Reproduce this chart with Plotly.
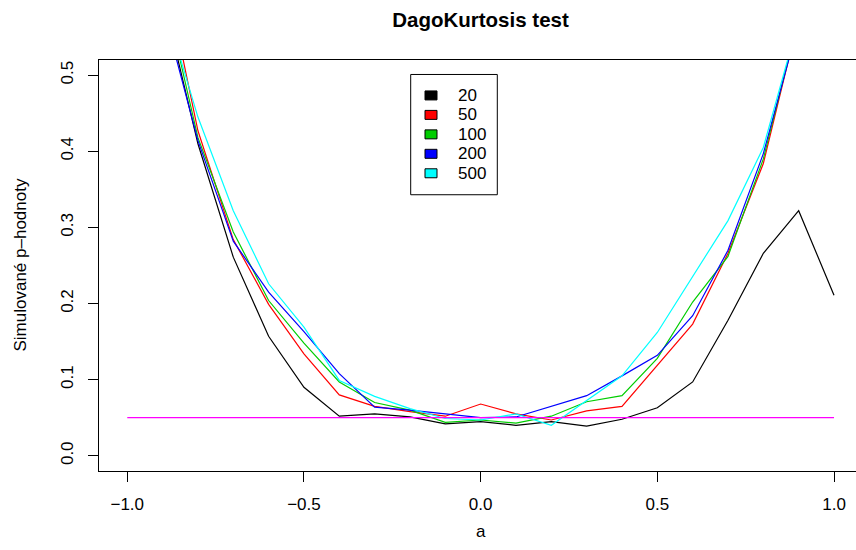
import plotly.graph_objects as go

# ---- data ----
a_values = [-1.0, -0.9, -0.8, -0.7, -0.6, -0.5, -0.4, -0.3, -0.2, -0.1, 0.0,
            0.1, 0.2, 0.3, 0.4, 0.5, 0.6, 0.7, 0.8, 0.9, 1.0]

p_n20 = [0.75, 0.605, 0.410, 0.261, 0.157, 0.090, 0.052, 0.055, 0.051, 0.042, 0.045,
         0.040, 0.045, 0.039, 0.048, 0.063, 0.097, 0.178, 0.266, 0.322, 0.211]
p_n50 = [0.80, 0.650, 0.427, 0.284, 0.199, 0.134, 0.080, 0.065, 0.058, 0.052, 0.068,
         0.055, 0.047, 0.059, 0.065, 0.119, 0.173, 0.266, 0.384, 0.575, 0.75]
p_n100 = [0.78, 0.620, 0.418, 0.294, 0.204, 0.148, 0.097, 0.070, 0.060, 0.044, 0.047,
          0.043, 0.052, 0.071, 0.079, 0.128, 0.202, 0.262, 0.390, 0.578, 0.76]
p_n200 = [0.76, 0.590, 0.414, 0.282, 0.215, 0.163, 0.108, 0.064, 0.060, 0.055, 0.050,
          0.051, 0.065, 0.079, 0.105, 0.132, 0.184, 0.270, 0.397, 0.560, 0.74]
p_n500 = [0.77, 0.600, 0.445, 0.322, 0.226, 0.169, 0.099, 0.078, 0.062, 0.049, 0.047,
          0.055, 0.040, 0.072, 0.105, 0.162, 0.236, 0.309, 0.405, 0.566, 0.74]

series_names = ["20", "50", "100", "200", "500"]
series_values = [p_n20, p_n50, p_n100, p_n200, p_n500]
series_colors = ["#000000", "#FF0000", "#00CD00", "#0000FF", "#00FFFF"]

alpha_x = [-1.0, 1.0]
alpha_y = [0.05, 0.05]

x_ticks = [-1.0, -0.5, 0.0, 0.5, 1.0]
x_ticktext = ["\u22121.0", "\u22120.5", "0.0", "0.5", "1.0"]
y_ticks = [0.0, 0.1, 0.2, 0.3, 0.4, 0.5]
y_ticktext = ["0.0", "0.1", "0.2", "0.3", "0.4", "0.5"]

# ---- layout geometry ----
W, H = 856, 550
L, R, T, B = 99, 0, 59.5, 78.7
PW = W - L - R
PH = H - T - B
FONT = "Liberation Sans, Arial, Helvetica, sans-serif"


def px(xp):
    return (xp - L) / PW


def py(yp):
    return (H - B - yp) / PH


fig = go.Figure()
for name, vals, col in zip(series_names, series_values, series_colors):
    fig.add_trace(go.Scatter(x=a_values, y=vals, mode="lines", name=name,
                             line=dict(color=col, width=1.2), showlegend=False))
fig.add_trace(go.Scatter(x=alpha_x, y=alpha_y, mode="lines", name="alpha",
                         line=dict(color="#FF00FF", width=1.2), showlegend=False))

# legend drawn like R's legend(fill=...)
shapes = [dict(type="rect", xref="paper", yref="paper",
               x0=px(410.7), x1=px(497.3), y0=py(194.5), y1=py(74),
               line=dict(color="black", width=1), fillcolor="white", layer="above")]
annotations = []
for i, (name, col) in enumerate(zip(series_names, series_colors)):
    yc = 95 + 19.5 * i
    shapes.append(dict(type="rect", xref="paper", yref="paper",
                       x0=px(425), x1=px(437), y0=py(yc + 4.5), y1=py(yc - 4.5),
                       line=dict(color="black", width=1), fillcolor=col, layer="above"))
    annotations.append(dict(text=name, xref="paper", yref="paper",
                            x=px(456), y=py(yc), xanchor="left", yanchor="middle",
                            showarrow=False, font=dict(family=FONT, size=17, color="black")))

annotations.append(dict(text="a", xref="x", yref="paper", x=0.0, y=py(532),
                        xanchor="center", yanchor="middle", showarrow=False,
                        font=dict(family=FONT, size=17, color="black")))
annotations.append(dict(text="Simulované p\u2013hodnoty", xref="paper", yref="paper",
                        x=px(20), y=0.5, textangle=-90, xanchor="center", yanchor="middle",
                        showarrow=False, font=dict(family=FONT, size=17, color="black")))

fig.update_layout(
    width=W, height=H,
    margin=dict(l=L, r=R, t=T, b=B, pad=0),
    paper_bgcolor="white", plot_bgcolor="white",
    title=dict(text="<b>DagoKurtosis test</b>", x=0.0, xref="paper",
               y=1 - 20 / H, yref="container", xanchor="center", yanchor="middle",
               font=dict(family=FONT, size=20.5, color="black")),
    shapes=shapes, annotations=annotations,
    showlegend=False,
    font=dict(family=FONT, size=17, color="black"),
)
fig.layout.title.x = px(480.5)

fig.update_xaxes(range=[-1.08, (W - 480.5) / 353.5], tickvals=x_ticks, ticktext=x_ticktext,
                 ticks="outside", ticklen=10, tickwidth=1, tickcolor="black",
                 showline=True, linecolor="black", linewidth=1, mirror=True,
                 showgrid=False, zeroline=False, ticklabelstandoff=8,
                 tickfont=dict(family=FONT, size=17, color="black"))
fig.update_yaxes(range=[-0.02, 0.52], tickvals=y_ticks, ticktext=y_ticktext,
                 ticks="outside", ticklen=10, tickwidth=1, tickcolor="black",
                 showline=True, linecolor="black", linewidth=1, mirror=False,
                 showgrid=False, zeroline=False, tickangle=-90, ticklabelstandoff=8,
                 tickfont=dict(family=FONT, size=17, color="black"))

fig.write_html("out.html")
